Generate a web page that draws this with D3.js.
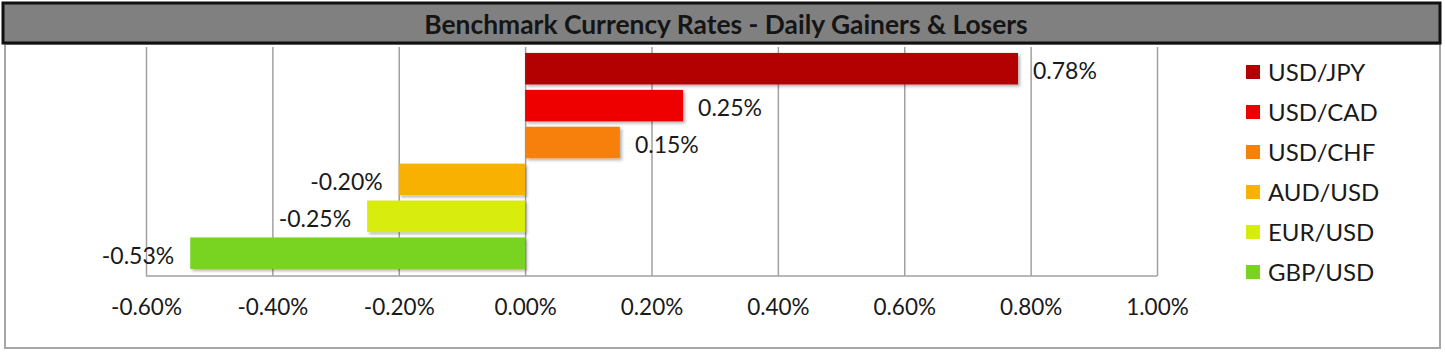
<!DOCTYPE html>
<html>
<head>
<meta charset="utf-8">
<script src="https://cdn.jsdelivr.net/npm/d3@7"></script>
<style>
  body { margin: 0; background: #fff; }
  svg { display: block; font-family: Lato, 'Liberation Sans', Arial, sans-serif; }
</style>
</head>
<body>
<svg id="chart" width="1445" height="354"></svg>
<script>
const pairs = ['USD/JPY', 'USD/CAD', 'USD/CHF', 'AUD/USD', 'EUR/USD', 'GBP/USD'];
const changes = [0.0078, 0.0025, 0.0015, -0.0020, -0.0025, -0.0053];
const colors = ['#b30000', '#ee0000', '#f78008', '#f9b102', '#d8ec0a', '#79d421'];
const xTicks = [-0.006, -0.004, -0.002, 0, 0.002, 0.004, 0.006, 0.008, 0.010];
const title = 'Benchmark Currency Rates - Daily Gainers & Losers';

const data = pairs.map((p, i) => ({ pair: p, value: changes[i], color: colors[i] }));

// plain hyphen for negatives, like Excel
const pct = d3.formatLocale({ decimal: '.', thousands: ',', grouping: [3], currency: ['', ''], minus: '-' }).format('.2%');

const svg = d3.select('#chart');

// drop shadow on bars
const defs = svg.append('defs');
defs.append('filter').attr('id', 'shadow')
  .attr('x', '-5%').attr('y', '-20%').attr('width', '110%').attr('height', '150%')
  .append('feDropShadow')
  .attr('dx', 2).attr('dy', 2).attr('stdDeviation', 1.5)
  .attr('flood-color', '#000').attr('flood-opacity', 0.3);

// outer chart frame
svg.append('rect')
  .attr('x', 5).attr('y', 44).attr('width', 1435).attr('height', 304)
  .attr('fill', '#fff').attr('stroke', '#a6a6a6').attr('stroke-width', 2);

// title bar
svg.append('rect')
  .attr('x', 3).attr('y', 3).attr('width', 1437).attr('height', 40)
  .attr('fill', '#808080').attr('stroke', '#111').attr('stroke-width', 3);
svg.append('text')
  .attr('x', 726).attr('y', 24)
  .attr('text-anchor', 'middle').attr('dominant-baseline', 'central')
  .attr('font-size', 26.4).attr('font-weight', 'bold').attr('fill', '#151515')
  .text(title);

const plotTop = 47, plotBottom = 276;

const x = d3.scaleLinear().domain([-0.006, 0.010]).range([146, 1157]);
const y = d3.scaleBand().domain(pairs).range([50.25, 271.65])
  .paddingInner(0.146).paddingOuter(0.073);

// gridlines + tick labels
const axis = svg.append('g')
  .attr('transform', `translate(0,${plotBottom})`)
  .call(d3.axisBottom(x).tickValues(xTicks).tickFormat(pct)
    .tickSize(-(plotBottom - plotTop)).tickPadding(23));
axis.select('.domain').remove();
axis.selectAll('.tick line').attr('stroke', '#a0a0a0').attr('stroke-width', 1.5);
axis.selectAll('.tick text')
  .attr('font-size', 22.5).attr('fill', '#1a1a1a')
  .attr('font-family', "Lato, 'Liberation Sans', Arial, sans-serif");

svg.append('line')
  .attr('x1', x(-0.006)).attr('x2', x(0.010))
  .attr('y1', plotBottom).attr('y2', plotBottom)
  .attr('stroke', '#a0a0a0').attr('stroke-width', 1.5);

// bars
svg.append('g').selectAll('rect').data(data).join('rect')
  .attr('x', d => x(Math.min(0, d.value)))
  .attr('y', d => y(d.pair))
  .attr('width', d => Math.abs(x(d.value) - x(0)))
  .attr('height', y.bandwidth())
  .attr('fill', d => d.color)
  .attr('filter', 'url(#shadow)');

// value labels
svg.append('g').selectAll('text').data(data).join('text')
  .attr('x', d => d.value >= 0 ? x(d.value) + 15 : x(d.value) - 16)
  .attr('y', d => y(d.pair) + y.bandwidth() / 2 + 1.5)
  .attr('text-anchor', d => d.value >= 0 ? 'start' : 'end')
  .attr('dominant-baseline', 'central')
  .attr('font-size', 23).attr('fill', '#1a1a1a')
  .text(d => pct(d.value));

// legend
const legend = svg.append('g').selectAll('g').data(data).join('g')
  .attr('transform', (d, i) => `translate(1246,${72 + i * 40})`);
legend.append('rect')
  .attr('x', 0).attr('y', -7).attr('width', 14).attr('height', 14)
  .attr('fill', d => d.color);
legend.append('text')
  .attr('x', 22).attr('y', -1)
  .attr('dominant-baseline', 'central')
  .attr('font-size', 24).attr('fill', '#1a1a1a')
  .text(d => d.pair);
</script>
</body>
</html>
